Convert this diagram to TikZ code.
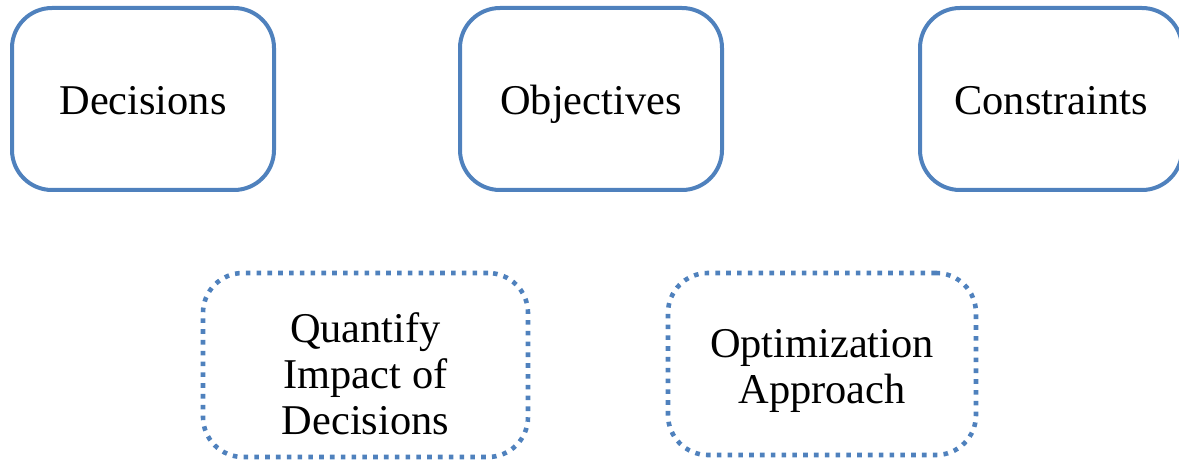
\documentclass[tikz,border=0pt]{standalone}
\usepackage{fontspec}
\setmainfont{Liberation Serif}
\definecolor{boxblue}{RGB}{79,129,189}
\begin{document}
\begin{tikzpicture}[x=0.5pt,y=-0.5pt,
  boxtext/.style={inner sep=0pt,font=\fontsize{21.2}{23}\selectfont,align=center},
  solidbox/.style={boxtext,draw=boxblue,line width=2pt,rounded corners=20pt,text height=18pt,text depth=2pt},
  dotbox/.style={boxtext,draw=boxblue,line width=2.3pt,dash pattern=on 2.3pt off 3.1pt,rounded corners=20pt}]
\useasboundingbox (0,0) rectangle (1179,460);
\clip (0,0) rectangle (1179,460);
\node[solidbox,minimum width=131pt,minimum height=91pt] (dec) at (143,99) {Decisions};
\node[solidbox,minimum width=131pt,minimum height=91pt] (obj) at (591,99) {Objectives};
\node[solidbox,minimum width=131pt,minimum height=91pt] (con) at (1051,99) {Constraints};
\node[dotbox,minimum width=162.5pt,minimum height=92pt,text height=71pt,text depth=2pt] (qua) at (365.5,365) {Quantify\\Impact of\\Decisions};
\node[dotbox,minimum width=154pt,minimum height=91pt,text height=41pt,text depth=2pt] (opt) at (822,364) {Optimization\\Approach};
\end{tikzpicture}
\end{document}
